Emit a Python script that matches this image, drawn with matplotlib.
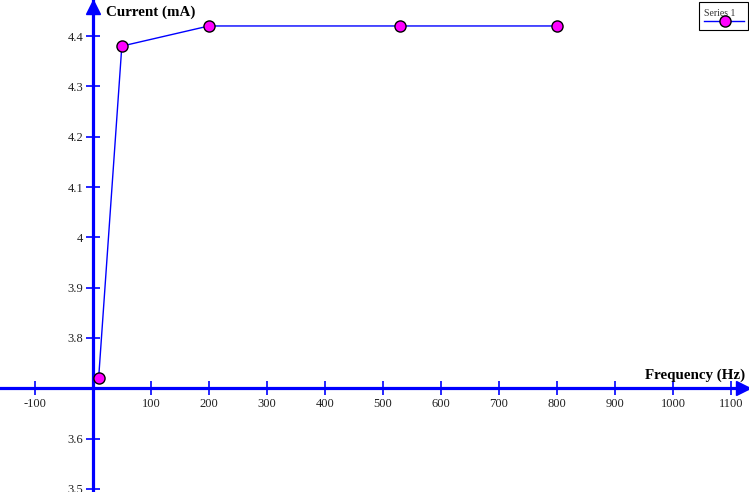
import matplotlib
matplotlib.use("Agg")
import matplotlib.pyplot as plt
from matplotlib.patches import Rectangle
from matplotlib.lines import Line2D

# data
frequency = [10, 50, 200, 530, 800]
current = [3.72, 4.38, 4.42, 4.42, 4.42]

x_ticks = [-100, 100, 200, 300, 400, 500, 600, 700, 800, 900, 1000, 1100]
y_ticks = [3.5, 3.6, 3.8, 3.9, 4.0, 4.1, 4.2, 4.3, 4.4]
y_tick_labels = ["3.5", "3.6", "3.8", "3.9", "4", "4.1", "4.2", "4.3", "4.4"]

plt.rcParams['font.family'] = ['Liberation Serif', 'DejaVu Serif']

fig = plt.figure(figsize=(7.49, 4.92), dpi=100)
ax = fig.add_axes([0, 0, 1, 1])
ax.set_xlim(-160, 1131)
ax.set_ylim(3.494, 4.4716)

for s in ['top', 'right']:
    ax.spines[s].set_visible(False)
ax.spines['left'].set_position(('data', 0))
ax.spines['bottom'].set_position(('data', 3.7))
for s in ['left', 'bottom']:
    ax.spines[s].set_color('blue')
    ax.spines[s].set_linewidth(2.3)
    ax.spines[s].set_zorder(1)

ax.set_xticks(x_ticks)
ax.set_xticklabels([str(v) for v in x_ticks])
ax.set_yticks(y_ticks)
ax.set_yticklabels(y_tick_labels)
ax.tick_params(axis='both', direction='inout', length=10, width=1.2,
               color='blue', labelsize=9, labelcolor='#222222')
ax.tick_params(axis='x', pad=2)
ax.tick_params(axis='y', pad=2)

# arrow heads on the axes
ax.plot([0], [4.458], marker='^', markersize=10, color='blue', clip_on=False, zorder=2)
ax.plot([1121], [3.7], marker='>', markersize=10, color='blue', clip_on=False, zorder=2)

ax.plot(frequency, current, color='blue', linewidth=1, marker='o',
        markersize=8, markerfacecolor='#ff00ff', markeredgecolor='black',
        markeredgewidth=1, zorder=3, clip_on=False)

ax.text(0.141, 0.975, 'Current (mA)', transform=ax.transAxes, fontsize=10.8,
        fontweight='bold', ha='left', va='center')
ax.text(0.995, 0.238, 'Frequency (Hz)', transform=ax.transAxes, fontsize=10.8,
        fontweight='bold', ha='right', va='center')

# legend box
fig.patches.append(Rectangle((699 / 749, 1 - 30 / 492), 49 / 749, 28 / 492,
                             transform=fig.transFigure, facecolor='white',
                             edgecolor='black', linewidth=0.8))
fig.text(704 / 749, 1 - 13 / 492, 'Series 1', fontsize=7, ha='left', va='center',
         color='#333333')
fig.lines.append(Line2D([704 / 749, 744 / 749], [1 - 21 / 492, 1 - 21 / 492],
                        transform=fig.transFigure, color='blue', linewidth=1,
                        marker='', zorder=5))
fig.lines.append(Line2D([725 / 749], [1 - 21 / 492], transform=fig.transFigure,
                        marker='o', markersize=8, markerfacecolor='#ff00ff',
                        markeredgecolor='black', markeredgewidth=1, zorder=6))

fig.savefig('out.png', dpi=100)
